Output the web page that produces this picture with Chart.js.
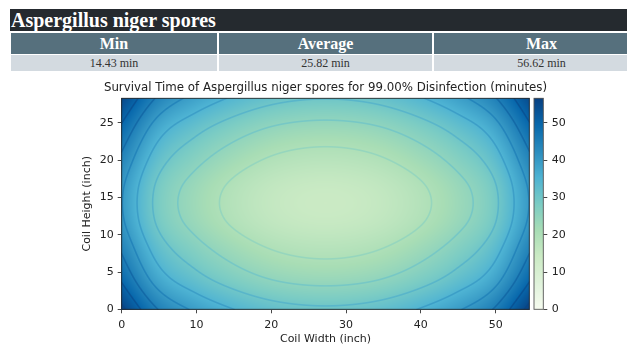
<!DOCTYPE html>
<html><head><meta charset="utf-8">
<script src="https://cdn.jsdelivr.net/npm/chart.js@4.4.1/dist/chart.umd.min.js"></script>
<style>
html,body{margin:0;padding:0;background:#fff;}
body{width:627px;height:347px;overflow:hidden;position:relative;}
#title{position:absolute;left:10px;top:9px;width:660px;height:22px;background:#252a2f;color:#fff;font:bold 20px "Liberation Serif",serif;line-height:23px;padding-left:1px;white-space:nowrap;}
.cell{position:absolute;text-align:center;font-family:"Liberation Serif",serif;white-space:nowrap;}
.hd{top:33px;height:21px;line-height:21px;background:#56707d;color:#fff;font-weight:bold;font-size:16px;}
.vl{top:55px;height:16px;line-height:16px;background:#d3dae0;color:#333;font-size:12px;}
#wrap{position:absolute;left:0;top:72px;width:627px;height:275px;}
</style></head>
<body>
<div id="title">Aspergillus niger spores</div>
<div id="summary"></div>
<div id="wrap"><canvas id="c" width="627" height="275"></canvas></div>
<script>
// ---- data ----
const chartTitle = 'Survival Time of Aspergillus niger spores for 99.00% Disinfection (minutes)';
const summaryLabels = ['Min', 'Average', 'Max'];
const summaryValues = [14.43, 25.82, 56.62];
const xNodes = [0, 4.95, 9.91, 14.86, 19.82, 24.77, 29.73, 34.68, 39.64, 44.59, 49.55, 54.5];
const yNodes = [0, 4.04, 8.09, 12.13, 16.17, 20.21, 24.26, 28.3];
// survival time (minutes) at (yNodes[row], xNodes[col])
const survival = [
  [56.2, 44.8, 39.1, 35.1, 32.3, 31.0, 31.0, 32.3, 35.1, 39.1, 44.9, 56.6],
  [49.3, 37.5, 31.8, 27.8, 25.0, 23.7, 23.7, 25.0, 27.8, 31.8, 37.5, 49.4],
  [44.3, 32.5, 26.8, 22.8, 20.0, 18.7, 18.7, 20.0, 22.8, 26.8, 32.5, 44.3],
  [40.7, 28.9, 23.2, 19.2, 16.4, 15.1, 15.1, 16.4, 19.2, 23.2, 28.9, 40.6],
  [40.6, 28.8, 23.1, 19.1, 16.3, 15.0, 15.0, 16.3, 19.1, 23.1, 28.8, 40.5],
  [44.0, 32.2, 26.5, 22.5, 19.7, 18.4, 18.4, 19.7, 22.5, 26.5, 32.2, 43.9],
  [49.0, 37.2, 31.5, 27.5, 24.7, 23.4, 23.4, 24.7, 27.5, 31.5, 37.2, 48.8],
  [55.2, 44.1, 38.4, 34.4, 31.6, 30.3, 30.3, 31.6, 34.4, 38.4, 44.0, 54.6]
];
const xTicks = [0, 10, 20, 30, 40, 50];
const yTicks = [0, 5, 10, 15, 20, 25];
const cbTicks = [0, 10, 20, 30, 40, 50];
const contourLevels = [20, 25, 30, 35, 40, 45, 50, 55];
const xMax = 54.5, yMax = 28.3;

// ---- summary table ----
const colLeft = [11, 219, 434], colWidth = [206, 213, 215];
const sum = document.getElementById('summary');
summaryLabels.forEach((lab, i) => {
  const h = document.createElement('div');
  h.className = 'cell hd'; h.style.left = colLeft[i] + 'px'; h.style.width = colWidth[i] + 'px';
  h.textContent = lab; sum.appendChild(h);
  const v = document.createElement('div');
  v.className = 'cell vl'; v.style.left = colLeft[i] + 'px'; v.style.width = colWidth[i] + 'px';
  v.textContent = summaryValues[i].toFixed(2) + ' min'; sum.appendChild(v);
});

// ---- colormap (GnBu) ----
const GNBU = ['#f7fcf0','#e0f3db','#ccebc5','#a8ddb5','#7bccc4','#4eb3d3','#2b8cbe','#0868ac','#084081']
  .map(h => [parseInt(h.slice(1,3),16), parseInt(h.slice(3,5),16), parseInt(h.slice(5,7),16)]);
function cmap(t) {
  t = Math.max(0, Math.min(1, t));
  const s = t * (GNBU.length - 1), i = Math.min(GNBU.length - 2, Math.floor(s)), f = s - i;
  const a = GNBU[i], b = GNBU[i+1];
  return [a[0]+(b[0]-a[0])*f, a[1]+(b[1]-a[1])*f, a[2]+(b[2]-a[2])*f];
}
const vmax = summaryValues[2];

// ---- smooth field rendering of the grid ----
function cr(p0,p1,p2,p3,t){return 0.5*((2*p1)+(-p0+p2)*t+(2*p0-5*p1+4*p2-p3)*t*t+(-p0+3*p1-3*p2+p3)*t*t*t);}
function locate(nodes, v){let i=0;while(i<nodes.length-2&&v>nodes[i+1])i++;return [i,(v-nodes[i])/(nodes[i+1]-nodes[i])];}
function rowAt(r, q){const n=r.length; if(q<0) return 2*r[0]-r[1]; if(q>n-1) return 2*r[n-1]-r[n-2]; return r[q];}
function sample(x, y){
  const [i, tx] = locate(xNodes, x), [j, ty] = locate(yNodes, y);
  const vals = [];
  for (let k=-1;k<=2;k++){
    const jj = j+k; let r;
    if (jj < 0) r = survival[0].map((v,c)=>2*v-survival[1][c]);
    else if (jj > survival.length-1){const n=survival.length; r = survival[n-1].map((v,c)=>2*v-survival[n-2][c]);}
    else r = survival[jj];
    vals.push(cr(rowAt(r,i-1),rowAt(r,i),rowAt(r,i+1),rowAt(r,i+2),tx));
  }
  return cr(vals[0],vals[1],vals[2],vals[3],ty);
}

const FONT = 'DejaVu Sans';
const heatPlugin = {
  id: 'heat',
  beforeDatasetsDraw(chart){
    const {ctx, chartArea:a, scales} = chart;
    const xs = scales.x, ys = scales.y;
    const X0=Math.floor(a.left), X1=Math.ceil(a.right), Y0=Math.floor(a.top), Y1=Math.ceil(a.bottom);
    const W=X1-X0, H=Y1-Y0;
    const F = new Float32Array(W*H);
    for (let py=0; py<H; py++){
      const yv = Math.max(0, Math.min(yMax, ys.getValueForPixel(Y0+py+0.5)));
      for (let px=0; px<W; px++){
        const xv = Math.max(0, Math.min(xMax, xs.getValueForPixel(X0+px+0.5)));
        F[py*W+px] = sample(xv, yv);
      }
    }
    const img = ctx.createImageData(W, H), d = img.data;
    for (let py=0; py<H; py++){
      for (let px=0; px<W; px++){
        const k = py*W+px, f = F[k];
        const gx = (F[py*W+Math.min(W-1,px+1)] - F[py*W+Math.max(0,px-1)])/2;
        const gy = (F[Math.min(H-1,py+1)*W+px] - F[Math.max(0,py-1)*W+px])/2;
        const g = Math.max(1e-4, Math.hypot(gx, gy));
        let al = 0;
        for (const L of contourLevels){ const dd = Math.abs(f-L)/g; al = Math.max(al, Math.min(1, Math.max(0, 1.3 - dd))); }
        let c = cmap(f/vmax);
        if (al > 0){ const lc = cmap(f/vmax + 0.14); const w = 0.5*al; c = [c[0]*(1-w)+lc[0]*w, c[1]*(1-w)+lc[1]*w, c[2]*(1-w)+lc[2]*w]; }
        d[k*4]=c[0]; d[k*4+1]=c[1]; d[k*4+2]=c[2]; d[k*4+3]=255;
      }
    }
    ctx.putImageData(img, X0, Y0);
  },
  afterDraw(chart){
    const {ctx, chartArea:a, scales} = chart;
    ctx.save();
    ctx.strokeStyle = '#2a2a2a'; ctx.lineWidth = 0.9;
    ctx.strokeRect(a.left, a.top, a.right-a.left, a.bottom-a.top);
    // colorbar
    const cb = scales.cb;
    const bx0 = a.right + 4.7, bw = 9.3;
    ctx.fillStyle = '#fff';
    ctx.fillRect(a.right+0.6, a.top-2, bx0 + bw - a.right - 0.6, a.bottom - a.top + 4);
    for (let py=Math.floor(a.top); py<Math.ceil(a.bottom); py++){
      const v = cb.getValueForPixel(py+0.5);
      const c = cmap(v/vmax);
      ctx.fillStyle = `rgb(${c[0]|0},${c[1]|0},${c[2]|0})`;
      ctx.fillRect(bx0, py, bw, 1);
    }
    ctx.strokeStyle = '#555'; ctx.lineWidth = 0.9;
    ctx.strokeRect(bx0, a.top, bw, a.bottom-a.top);
    // plot title, centred over the plot area
    ctx.fillStyle = '#222';
    ctx.font = `11.8px "${FONT}"`;
    ctx.textAlign = 'center'; ctx.textBaseline = 'middle';
    ctx.fillText(chartTitle, (a.left + a.right) / 2, a.top - 10.5);
    ctx.restore();
  }
};

const points = [];
yNodes.forEach((y, j) => xNodes.forEach((x, i) => points.push({x, y, v: survival[j][i]})));

const tickFont = {family: FONT, size: 11};
new Chart(document.getElementById('c'), {
  type: 'scatter',
  data: {datasets: [{label: 'Survival time', data: points, pointRadius: 0, pointHoverRadius: 0, showLine: false}]},
  options: {
    responsive: false, animation: false, devicePixelRatio: 1,
    layout: {padding: {top: 26.3, left: 0, right: 0, bottom: 0}},
    plugins: {legend: {display: false}, tooltip: {enabled: false}, title: {display: false}},
    scales: {
      x: {type: 'linear', position: 'bottom', min: 0, max: xMax,
        afterBuildTicks: s => { s.ticks = xTicks.map(v => ({value: v})); },
        afterFit: s => { s.height = 37.7; },
        ticks: {font: tickFont, color: '#222', padding: 5, maxRotation: 0, includeBounds: false},
        grid: {drawOnChartArea: false, drawTicks: true, tickLength: 4, tickColor: '#333', tickWidth: 0.9},
        border: {display: false},
        title: {display: true, text: 'Coil Width (inch)', font: tickFont, color: '#222', padding: {top: 0, bottom: 1.2}}
      },
      y: {type: 'linear', position: 'left', min: 0, max: yMax,
        afterBuildTicks: s => { s.ticks = yTicks.map(v => ({value: v})); },
        afterFit: s => { s.width = 121.7; },
        ticks: {font: tickFont, color: '#222', padding: 4, includeBounds: false},
        grid: {drawOnChartArea: false, drawTicks: true, tickLength: 4, tickColor: '#333', tickWidth: 0.9},
        border: {display: false},
        title: {display: true, text: 'Coil Height (inch)', font: tickFont, color: '#222', padding: {top: 81, bottom: 0}}
      },
      cb: {type: 'linear', position: 'right', min: 0, max: vmax,
        afterBuildTicks: s => { s.ticks = cbTicks.map(v => ({value: v})); },
        afterFit: s => { s.width = 97.7; },
        ticks: {font: tickFont, color: '#222', padding: 4.4, includeBounds: false},
        grid: {drawOnChartArea: false, drawTicks: true, tickLength: 18, tickColor: '#333', tickWidth: 0.9},
        border: {display: false}
      }
    }
  },
  plugins: [heatPlugin]
});
</script>
</body></html>
